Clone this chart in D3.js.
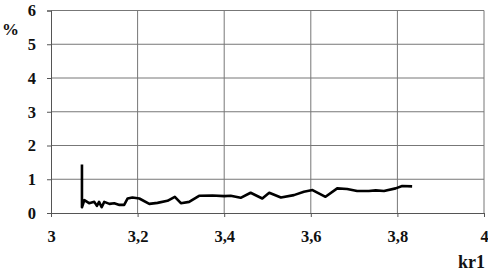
<!DOCTYPE html>
<html>
<head>
<meta charset="utf-8">
<script src="https://cdn.jsdelivr.net/npm/d3@7"></script>
<style>
  body { margin: 0; background: #fff; }
  svg text { font-family: 'Liberation Serif', 'Times New Roman', Times, serif !important; font-weight: bold; }
</style>
</head>
<body>
<svg id="chart"></svg>
<script>
const kr1 = [3.0715, 3.0715, 3.077, 3.088, 3.10, 3.106, 3.111, 3.117, 3.123, 3.135, 3.146, 3.158, 3.169, 3.177,
  3.188, 3.204, 3.227, 3.246, 3.269, 3.286, 3.30, 3.319, 3.342, 3.373, 3.40, 3.415, 3.438, 3.461,
  3.488, 3.504, 3.531, 3.561, 3.584, 3.604, 3.634, 3.661, 3.684, 3.707, 3.734, 3.75, 3.769, 3.796,
  3.811, 3.834];
const pct = [1.44, 0.17, 0.38, 0.29, 0.33, 0.21, 0.33, 0.17, 0.33, 0.27, 0.29, 0.24, 0.24, 0.43,
  0.46, 0.43, 0.27, 0.30, 0.36, 0.48, 0.29, 0.33, 0.51, 0.52, 0.50, 0.51, 0.45, 0.60,
  0.43, 0.60, 0.46, 0.53, 0.63, 0.68, 0.48, 0.73, 0.71, 0.65, 0.65, 0.67, 0.65, 0.73,
  0.80, 0.79];
const xTicks = [3, 3.2, 3.4, 3.6, 3.8, 4];
const yTicks = [0, 1, 2, 3, 4, 5, 6];

const w = 488, h = 273;
const svg = d3.select('#chart').attr('width', w).attr('height', h);

const x = d3.scaleLinear().domain([3, 4]).range([51, 484]);
const y = d3.scaleLinear().domain([0, 6]).range([213, 10.5]);

// grid
svg.append('g').selectAll('line')
  .data(yTicks.slice(1))
  .enter().append('line')
  .attr('x1', x(3)).attr('x2', x(4))
  .attr('y1', d => y(d)).attr('y2', d => y(d))
  .attr('stroke', '#777').attr('stroke-width', 1);

svg.append('g').selectAll('line')
  .data(xTicks.slice(1))
  .enter().append('line')
  .attr('x1', d => x(d)).attr('x2', d => x(d))
  .attr('y1', y(0)).attr('y2', y(6))
  .attr('stroke', '#777').attr('stroke-width', 1);

// axes
const xAxis = svg.append('g')
  .attr('transform', `translate(0, ${y(0)})`)
  .call(d3.axisBottom(x).tickValues(xTicks).tickSize(4).tickPadding(13)
    .tickFormat(d => d3.format('.1~f')(d).replace('.', ',')));
const yAxis = svg.append('g')
  .attr('transform', `translate(${x(3)}, 0)`)
  .call(d3.axisLeft(y).tickValues(yTicks).tickSize(4).tickPadding(11).tickFormat(d3.format('d')));

[xAxis, yAxis].forEach(g => {
  g.attr('font-family', null).attr('font-size', null);
  g.select('.domain').attr('stroke', '#555');
  g.selectAll('.tick line').attr('stroke', '#555');
  g.selectAll('.tick text').attr('font-size', 16.5).attr('fill', '#111');
});

// line
const line = d3.line().x((d, i) => x(kr1[i])).y(d => y(d));
svg.append('path')
  .datum(pct)
  .attr('d', line)
  .attr('fill', 'none')
  .attr('stroke', '#000')
  .attr('stroke-width', 2.6)
  .attr('stroke-linejoin', 'round');

// axis titles
svg.append('text').attr('x', 2).attr('y', 35).attr('font-size', 17).attr('fill', '#111').text('%');
svg.append('text').attr('x', 485).attr('y', 268).attr('text-anchor', 'end')
  .attr('font-size', 18).attr('fill', '#111').text('kr1');
</script>
</body>
</html>
